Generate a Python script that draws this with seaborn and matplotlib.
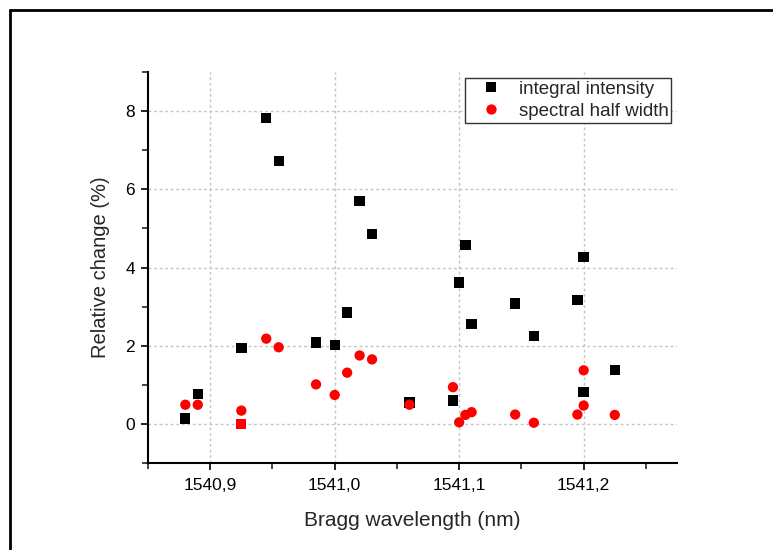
import matplotlib
matplotlib.use("Agg")
import matplotlib.pyplot as plt
from matplotlib.ticker import MultipleLocator, FixedLocator, FixedFormatter
from matplotlib.lines import Line2D
import seaborn as sns
import pandas as pd

# ---- data ----
integral_x = [1540.880, 1540.890, 1540.925, 1540.945, 1540.955, 1540.985, 1541.000,
              1541.010, 1541.020, 1541.030, 1541.060, 1541.095, 1541.100, 1541.105,
              1541.110, 1541.145, 1541.160, 1541.195, 1541.200, 1541.200, 1541.225]
integral_y = [0.14, 0.77, 1.94, 7.82, 6.73, 2.08, 2.01,
              2.85, 5.70, 4.85, 0.55, 0.60, 3.62, 4.57,
              2.56, 3.08, 2.24, 3.17, 4.27, 0.81, 1.37]

width_x = [1540.880, 1540.890, 1540.925, 1540.945, 1540.955, 1540.985, 1541.000,
           1541.010, 1541.020, 1541.030, 1541.060, 1541.095, 1541.100, 1541.105,
           1541.110, 1541.145, 1541.160, 1541.195, 1541.200, 1541.200, 1541.225]
width_y = [0.49, 0.49, 0.34, 2.18, 1.96, 1.01, 0.74,
           1.31, 1.75, 1.65, 0.49, 0.94, 0.04, 0.23,
           0.30, 0.24, 0.03, 0.24, 0.47, 1.37, 0.23]

# overlapping point rendered as a red square in the original
overlap_x = [1540.925]
overlap_y = [0.0]

series_names = ["integral intensity", "spectral half width"]
xtick_values = [1540.9, 1541.0, 1541.1, 1541.2]
xtick_labels = ["1540,9", "1541,0", "1541,1", "1541,2"]
ytick_values = [0, 2, 4, 6, 8]
ytick_labels = ["0", "2", "4", "6", "8"]

df = pd.DataFrame({
    "x": integral_x + width_x,
    "y": integral_y + width_y,
    "series": [series_names[0]] * len(integral_x) + [series_names[1]] * len(width_x),
})
df_overlap = pd.DataFrame({"x": overlap_x, "y": overlap_y})

# ---- style ----
sns.set_style("white")
plt.rcParams["font.family"] = ["Liberation Sans", "DejaVu Sans"]

fig = plt.figure(figsize=(7.73, 5.5), dpi=100)
ax = fig.add_axes([148 / 773, 1 - 463 / 550, (677 - 148) / 773, (463 - 72) / 550])

sns.scatterplot(
    data=df, x="x", y="y", hue="series", style="series",
    palette={series_names[0]: "black", series_names[1]: "#ff0000"},
    markers={series_names[0]: "s", series_names[1]: "o"},
    s=55, linewidth=0, ax=ax, zorder=3,
)
sns.scatterplot(data=df_overlap, x="x", y="y", color="#ff0000", marker="s",
                s=55, linewidth=0, ax=ax, legend=False, zorder=4)

ax.set_xlim(1540.85, 1541.275)
ax.set_ylim(-1, 9)

ax.xaxis.set_major_locator(FixedLocator(xtick_values))
ax.xaxis.set_major_formatter(FixedFormatter(xtick_labels))
ax.xaxis.set_minor_locator(MultipleLocator(0.05))
ax.yaxis.set_major_locator(FixedLocator(ytick_values))
ax.yaxis.set_major_formatter(FixedFormatter(ytick_labels))
ax.yaxis.set_minor_locator(MultipleLocator(1))

ax.tick_params(axis="both", which="major", direction="out", length=5, width=1.2,
               labelsize=12.5, colors="black", bottom=True, left=True)
ax.tick_params(axis="x", which="major", pad=5.5)
ax.tick_params(axis="y", which="major", pad=4.5)
ax.tick_params(axis="both", which="minor", direction="out", length=4, width=1.2,
               bottom=True, left=True)

for side in ["top", "right"]:
    ax.spines[side].set_visible(False)
for side in ["left", "bottom"]:
    ax.spines[side].set_color("black")
    ax.spines[side].set_linewidth(1.5)

ax.grid(True, which="major", color="#c4c4c4", linestyle=(0, (2, 2)), linewidth=1)
ax.set_axisbelow(True)

ax.set_xlabel("Bragg wavelength (nm)", fontsize=15, labelpad=13)
ax.set_ylabel("Relative change (%)", fontsize=14.5, labelpad=11)

leg = ax.legend(loc="upper right", frameon=True, fancybox=False, fontsize=13.5,
                borderaxespad=0.3, handlelength=2.45, handletextpad=0.27,
                borderpad=0.15, labelspacing=0.28, markerscale=1.0)
leg.get_frame().set_edgecolor("#333333")
leg.get_frame().set_linewidth(1.0)
leg.get_frame().set_alpha(1)
leg.set_title(None)

# outer frame (left and top edges)
x0 = 10 / 773
y0 = 1 - 10 / 550
fig.add_artist(Line2D([x0, x0], [0, y0], transform=fig.transFigure, color="black", linewidth=2))
fig.add_artist(Line2D([x0, 1], [y0, y0], transform=fig.transFigure, color="black", linewidth=2))

fig.savefig("out.png", dpi=100)
